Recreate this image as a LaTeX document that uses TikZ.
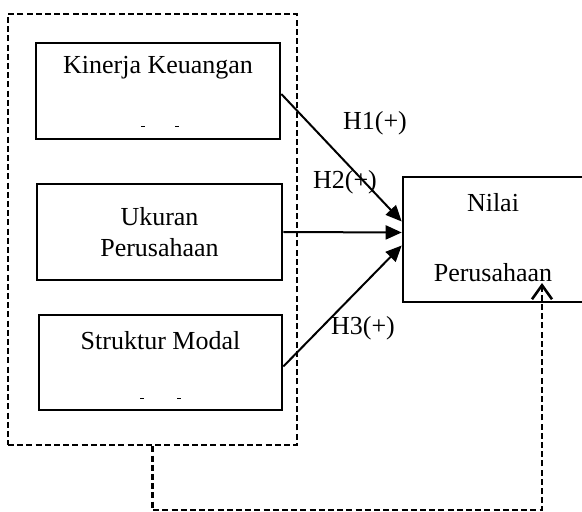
\documentclass[tikz,border=0pt]{standalone}
\usepackage{fontspec}
\setmainfont{Liberation Serif}
\usetikzlibrary{arrows.meta,calc,positioning}
\tikzset{
  txt/.style={font=\fontsize{13pt}{15.6pt}\selectfont,inner sep=0pt},
  varbox/.style={draw,line width=1.3pt,minimum width=122pt,minimum height=48pt,inner sep=0pt,align=center,txt},
  dashbox/.style={draw,line width=1.3pt,dash pattern=on 3pt off 1.6pt},
  effect/.style={line width=1pt,-{Triangle[length=8pt,width=7pt]}},
  feedback/.style={line width=1.3pt,dash pattern=on 3pt off 1.6pt,-{Straight Barb[length=7pt,width=10pt,line width=1.3pt]}},
  tick/.style={line width=0.5pt}
}
\begin{document}
\begin{tikzpicture}[x=0.5pt,y=-0.5pt]
\useasboundingbox (0,0) rectangle (582,512);
\clip (0,0) rectangle (582,512);
\fill[white] (0,0) rectangle (582,512);
\node[dashbox,minimum width=144.5pt,minimum height=215.5pt] (group) at (152.5,229.5) {};
\node[varbox] (kinerja) at (158,91) {};
\node[txt] (kinerjatxt) at (158,68) {Kinerja Keuangan};
\draw[tick] (141,127) -- ++(4,0);
\draw[tick] (175,127) -- ++(4,0);
\node[varbox,minimum width=122.5pt] (ukuran) at (159.5,232) {Ukuran\\Perusahaan};
\node[varbox,minimum width=121.5pt,minimum height=47.5pt] (struktur) at (160.5,362.5) {};
\node[txt] (strukturtxt) at (160.5,341) {Struktur Modal};
\draw[tick] (140,398) -- ++(4,0);
\draw[tick] (177,398) -- ++(4,0);
\node[varbox,minimum width=91.5pt,minimum height=62.5pt] (nilai) at (494.5,239.5) {};
\node[txt] (nilaitxt) at (493,203) {Nilai};
\node[txt] (perusahaantxt) at (493,273) {Perusahaan};
\coordinate (t1) at ($(nilai.west)+(0,-18)$);
\coordinate (t2) at ($(nilai.west)+(0,-7)$);
\coordinate (t3) at ($(nilai.west)+(0,6)$);
\draw[effect] ($(kinerja.east)+(0,3)$) -- (t1);
\draw[effect] (ukuran.east) -- (t2);
\draw[effect] ($(struktur.east)+(0,4)$) -- (t3);
\node[txt] (h1) at (375,123) {H1(+)};
\node[txt] (h2) at (345,182) {H2(+)};
\node[txt] (h3) at (363,328) {H3(+)};
\coordinate (loop) at (542,510);
\coordinate (fbtip) at (542,283);
\draw[feedback] (group.south) |- (loop) -- (fbtip);
\end{tikzpicture}
\end{document}
